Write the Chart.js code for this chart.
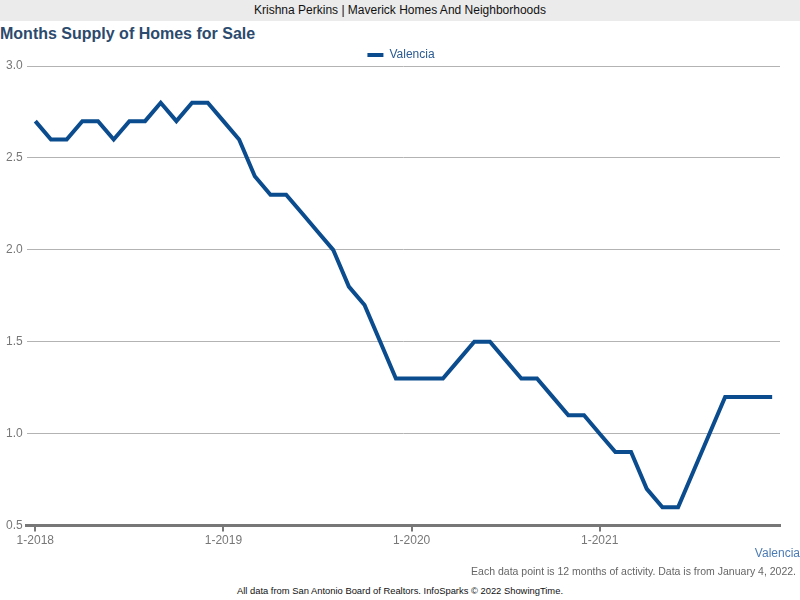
<!DOCTYPE html>
<html>
<head>
<meta charset="utf-8">
<script src="https://cdn.jsdelivr.net/npm/chart.js@4.4.0/dist/chart.umd.min.js"></script>
<style>
  html, body { margin: 0; padding: 0; background: #fff; }
  body { width: 800px; height: 600px; position: relative; overflow: hidden; font-family: "Liberation Sans", Arial, sans-serif; }
  .topbar { position: absolute; left: 0; top: 0; width: 800px; height: 21px; line-height: 21px; background: #ebebeb; text-align: center; font-size: 12px; color: #111; }
  .title { position: absolute; left: 0; top: 25px; font-size: 16px; font-weight: bold; color: #2c4a6d; }
  .wrap { position: absolute; left: 0; top: 49px; width: 800px; height: 501px; }
  .series { position: absolute; right: 0; top: 546px; font-size: 12px; color: #4b7bb4; }
  .note { position: absolute; right: 4px; top: 565px; font-size: 10.5px; color: #666; }
  .foot { position: absolute; left: 0; width: 800px; top: 585px; text-align: center; font-size: 9.4px; color: #111; }
</style>
</head>
<body>
<div class="topbar">Krishna Perkins | Maverick Homes And Neighborhoods</div>
<div class="title">Months Supply of Homes for Sale</div>
<div class="wrap"><canvas id="supplyChart"></canvas></div>
<div class="series">Valencia</div>
<div class="note">Each data point is 12 months of activity. Data is from January 4, 2022.</div>
<div class="foot">All data from San Antonio Board of Realtors. InfoSparks © 2022 ShowingTime.</div>

<script>
// ── Data ───────────────────────────────────────────────────────
const YEARS      = [2018, 2019, 2020, 2021];
const YEAR_TICKS = ["1-2018", "1-2019", "1-2020", "1-2021"];
const SERIES_NAME = "Valencia";

// one value per month, 1-2018 .. 12-2021
const SUPPLY = [
  2.7, 2.6, 2.6, 2.7, 2.7, 2.6, 2.7, 2.7, 2.8, 2.7, 2.8, 2.8,
  2.7, 2.6, 2.4, 2.3, 2.3, 2.2, 2.1, 2.0, 1.8, 1.7, 1.5, 1.3,
  1.3, 1.3, 1.3, 1.4, 1.5, 1.5, 1.4, 1.3, 1.3, 1.2, 1.1, 1.1,
  1.0, 0.9, 0.9, 0.7, 0.6, 0.6, 0.8, 1.0, 1.2, 1.2, 1.2, 1.2,
];

const Y_TICKS = [0.5, 1.0, 1.5, 2.0, 2.5, 3.0];

// ── Chart ──────────────────────────────────────────────────────
const LINE = "#0b4c8e";
const FONT = "'Liberation Sans', Arial, sans-serif";

// legend sits tighter on the plot and centred on the page, not the padded box
const tightLegend = {
  id: "tightLegend",
  beforeLayout(chart) {
    const lg = chart.legend;
    if (!lg || lg._tight) return;
    const fit = lg.fit;
    lg.fit = function () { fit.call(this); this.height -= 5; };
    lg._tight = true;
  },
  afterLayout(chart) {
    const lg = chart.legend;
    if (!lg) return;
    lg.left += 10; lg.right += 10;
  },
};

new Chart(document.getElementById("supplyChart"), {
  type: "line",
  data: {
    datasets: [{
      label: SERIES_NAME,
      data: SUPPLY.map((v, i) => ({ x: i, y: v })),
      borderColor: LINE,
      backgroundColor: LINE,
      borderWidth: 4,
      pointRadius: 0,
      pointStyle: "line",
      tension: 0,
      fill: false,
    }],
  },
  plugins: [tightLegend],
  options: {
    responsive: true, maintainAspectRatio: false, animation: false,
    layout: { padding: { left: 2, right: 20, top: 0, bottom: 0 } },
    plugins: {
      legend: {
        position: "top",
        labels: {
          usePointStyle: true, pointStyle: "line", pointStyleWidth: 16, boxHeight: 12,
          color: "#2b5b92", font: { family: FONT, size: 12 }, padding: 0,
        },
      },
      tooltip: { enabled: false },
    },
    scales: {
      x: {
        type: "linear", min: -0.55, max: 47.5,
        afterBuildTicks: ax => { ax.ticks = YEARS.map((_, i) => ({ value: i * 12 })); },
        grid: { drawOnChartArea: false, drawTicks: true, tickLength: 6, color: "#777", lineWidth: 2 },
        border: { color: "#777", width: 3 },
        ticks: { color: "#777", font: { family: FONT, size: 12 }, padding: 2, maxRotation: 0,
                 callback: v => YEAR_TICKS[v / 12] ?? "" },
      },
      y: {
        min: 0.5, max: 3.0,
        afterBuildTicks: ax => { ax.ticks = Y_TICKS.map(v => ({ value: v })); },
        grid: { color: "#b3b3b3", lineWidth: 1, drawTicks: false },
        border: { display: false },
        ticks: { color: "#777", font: { family: FONT, size: 12 }, padding: 4, callback: v => v.toFixed(1) },
      },
    },
  },
});
</script>
</body>
</html>
